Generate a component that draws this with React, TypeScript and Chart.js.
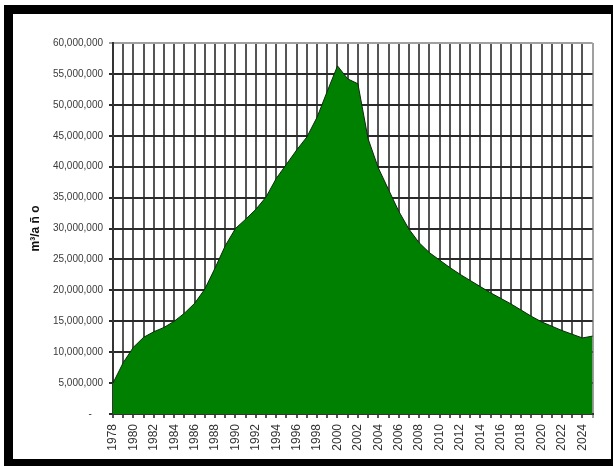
import React, { useEffect, useRef } from 'react';
import { Chart, registerables } from 'chart.js';

Chart.register(...registerables);

const years = [
  '1978', '1979', '1980', '1981', '1982', '1983', '1984', '1985', '1986', '1987',
  '1988', '1989', '1990', '1991', '1992', '1993', '1994', '1995', '1996', '1997',
  '1998', '1999', '2000', '2001', '2002', '2003', '2004', '2005', '2006', '2007',
  '2008', '2009', '2010', '2011', '2012', '2013', '2014', '2015', '2016', '2017',
  '2018', '2019', '2020', '2021', '2022', '2023', '2024', '2025',
];

const volumes = [
  5000000, 8300000, 10800000, 12400000, 13300000, 14000000, 15000000, 16300000, 17900000, 20200000,
  23600000, 27200000, 30000000, 31500000, 33100000, 35100000, 38100000, 40400000, 42700000, 44800000,
  48000000, 52200000, 56300000, 54200000, 53400000, 44500000, 39800000, 36300000, 32800000, 29900000,
  27700000, 26100000, 24900000, 23700000, 22600000, 21600000, 20600000, 19600000, 18700000, 17800000,
  16800000, 15800000, 14900000, 14200000, 13500000, 12900000, 12300000, 12600000,
];

const yMin = 0;
const yMax = 60000000;
const yStep = 5000000;
const yTitle = 'm³/a ñ o';

const FONT = '"Liberation Sans", Arial, sans-serif';

export default function App() {
  const ref = useRef<HTMLCanvasElement>(null);

  useEffect(() => {
    const chart = new Chart(ref.current as HTMLCanvasElement, {
      type: 'line',
      data: {
        labels: years,
        datasets: [
          {
            data: volumes,
            fill: 'origin',
            backgroundColor: '#008000',
            borderColor: '#0d2a0d',
            borderWidth: 1,
            pointRadius: 0,
            tension: 0,
          },
        ],
      },
      options: {
        animation: false,
        responsive: false,
        events: [],
        layout: { padding: { top: 43, right: 15, left: 0, bottom: 0 } },
        plugins: {
          legend: { display: false },
          tooltip: { enabled: false },
        },
        scales: {
          x: {
            offset: false,
            grid: {
              color: (ctx: any) => (ctx.index === years.length - 1 ? '#a0a0a0' : '#555555'),
              lineWidth: 2,
              tickLength: 4,
            },
            border: { display: true, color: '#333333', width: 2 },
            ticks: {
              autoSkip: false,
              minRotation: 90,
              maxRotation: 90,
              padding: 6,
              color: '#333333',
              font: { family: FONT, size: 12 },
              callback: (_v: any, i: number) => (i % 2 === 0 ? years[i] : ''),
            },
            afterFit: (s: any) => {
              s.height = 52;
            },
          },
          y: {
            min: yMin,
            max: yMax,
            grid: {
              color: (ctx: any) => (ctx.tick && ctx.tick.value === yMax ? '#a0a0a0' : '#2a2a2a'),
              lineWidth: 2,
              tickLength: 4,
            },
            border: { display: true, color: '#333333', width: 2 },
            ticks: {
              stepSize: yStep,
              padding: 6,
              color: '#3a3a3a',
              font: { family: FONT, size: 10 },
              callback: (v: any) => (Number(v) === 0 ? '-    ' : Number(v).toLocaleString('en-US')),
            },
            title: {
              display: true,
              text: yTitle,
              color: '#111111',
              font: { family: FONT, size: 12, weight: 'bold' },
              padding: { top: 28, bottom: 0 },
            },
            afterFit: (s: any) => {
              s.width = 113;
            },
          },
        },
      },
    } as any);
    return () => chart.destroy();
  }, []);

  return (
    <div style={{ position: 'absolute', left: 0, top: 0, width: 613, height: 466, background: '#ffffff', overflow: 'hidden' }}>
      <div
        style={{
          position: 'absolute',
          left: 4,
          top: 5,
          width: 609,
          height: 461,
          boxSizing: 'border-box',
          borderTop: '9px solid #000',
          borderLeft: '9px solid #000',
          borderRight: '2px solid #000',
          borderBottom: '7px solid #000',
        }}
      />
      <canvas ref={ref} width={613} height={466} style={{ position: 'absolute', left: 0, top: 0 }} />
    </div>
  );
}
